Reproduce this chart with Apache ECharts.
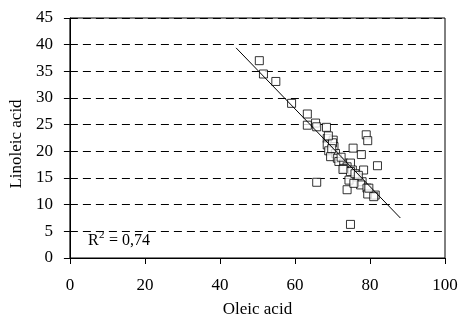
<!DOCTYPE html>
<html><head><meta charset="utf-8">
<script src="https://cdn.jsdelivr.net/npm/echarts@6/dist/echarts.min.js"></script>
<style>html,body{margin:0;padding:0;background:#fff}#c{width:462px;height:325px}</style>
</head><body><div id="c"></div>
<script>
const xTicks = [0, 20, 40, 60, 80, 100];
const yTicks = [0, 5, 10, 15, 20, 25, 30, 35, 40, 45];
const oleic = [50.5, 51.6, 54.9, 59.1, 63.3, 63.3, 65.5, 65.8, 68.4, 68.6, 70.2, 68.6, 70.4, 69.0, 70.8, 69.5, 71.3, 71.7, 73.0, 74.8, 73.9, 75.3, 75.5, 77.7, 79.0, 79.4, 82.0, 65.8, 74.4, 73.9, 76.6, 77.9, 77.5, 79.2, 79.4, 81.4, 78.3, 74.8, 73.0, 74.8, 75.7, 79.7, 81.0, 76.0, 72.3, 70.0, 68.9, 69.8, 72.8, 76.9];
const linoleic = [37.0, 34.5, 33.1, 29.0, 27.0, 24.9, 25.3, 24.6, 24.5, 22.4, 22.1, 21.2, 20.9, 20.1, 19.6, 19.0, 18.7, 18.1, 17.8, 17.8, 17.1, 16.5, 20.6, 19.4, 23.1, 22.0, 17.3, 14.2, 14.6, 12.8, 15.2, 14.3, 13.7, 13.1, 12.0, 11.8, 16.5, 6.3, 16.8, 16.2, 14.0, 13.1, 11.5, 15.8, 18.9, 21.6, 22.9, 20.5, 16.6, 15.5];
const trendX = [44.3, 88.1];
const trendY = [39.4, 7.5];
const r2Label = ['R', '2', '= 0,74'];

const chart = echarts.init(document.getElementById('c'), null, {renderer: 'canvas'});
const font = 'Liberation Serif';
chart.setOption({
  animation: false,
  backgroundColor: '#fff',
  grid: {left: 68, right: 17, top: 18, bottom: 67, show: true, borderColor: '#000', borderWidth: 1, backgroundColor: 'transparent'},
  xAxis: {
    type: 'value', min: xTicks[0], max: xTicks[xTicks.length - 1], interval: 20,
    name: 'Oleic acid', nameLocation: 'middle', nameGap: 43,
    nameTextStyle: {fontFamily: font, fontSize: 17, color: '#000'},
    axisLine: {show: true, lineStyle: {color: '#000', width: 1}},
    axisTick: {show: true, inside: false, length: 6, lineStyle: {color: '#000'}},
    axisLabel: {fontFamily: font, fontSize: 17, color: '#000', margin: 19},
    splitLine: {show: false}
  },
  yAxis: {
    type: 'value', min: yTicks[0], max: yTicks[yTicks.length - 1], interval: 5,
    name: 'Linoleic acid', nameLocation: 'middle', nameGap: 41, nameRotate: 90,
    nameTextStyle: {fontFamily: font, fontSize: 17, color: '#000', padding: [0, 12, 0, 0]},
    axisLine: {show: true, lineStyle: {color: '#000', width: 1}},
    axisTick: {show: true, inside: false, length: 6, lineStyle: {color: '#000'}},
    axisLabel: {fontFamily: font, fontSize: 17, color: '#000', margin: 17},
    splitLine: {show: true, lineStyle: {color: '#000', type: [8, 5], width: 1}}
  },
  series: [
    {
      type: 'scatter', symbol: 'rect', symbolSize: 8,
      itemStyle: {color: '#fff', borderColor: '#000', borderWidth: 1},
      data: oleic.map((x, i) => [x, linoleic[i]]), z: 2
    },
    {
      type: 'line', symbol: 'none', lineStyle: {color: '#000', width: 1},
      data: trendX.map((x, i) => [x, trendY[i]]), z: 3
    }
  ],
  graphic: [
    {type: 'text', left: 88, top: 233, style: {text: r2Label[0], fontFamily: font, fontSize: 16, fill: '#000'}},
    {type: 'text', left: 99, top: 230, style: {text: r2Label[1], fontFamily: font, fontSize: 11, fill: '#000'}},
    {type: 'text', left: 109, top: 233, style: {text: r2Label[2], fontFamily: font, fontSize: 16, fill: '#000'}}
  ]
});
</script></body></html>
